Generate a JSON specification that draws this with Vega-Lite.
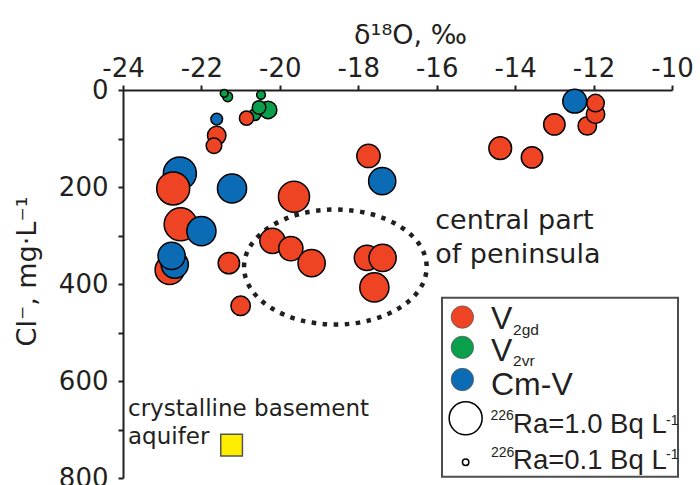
{
  "$schema": "https://vega.github.io/schema/vega-lite/v6.json",
  "width": 549,
  "height": 388,
  "autosize": {"type": "none"},
  "padding": {"left": 123, "top": 90, "right": 28, "bottom": 7},
  "background": "white",
  "config": {"view": {"stroke": null}, "font": "DejaVu Sans"},
  "encoding": {
    "x": {
      "field": "d18O", "type": "quantitative",
      "scale": {"domain": [-24, -10], "nice": false, "zero": false},
      "axis": {
        "orient": "top", "values": [-24, -22, -20, -18, -16, -14, -12, -10],
        "labelExpr": "'' + datum.value",
        "title": "δ¹⁸O, ‰", "grid": false,
        "domainColor": "#231F20", "domainWidth": 2,
        "tickColor": "#231F20", "tickWidth": 2, "tickSize": 5,
        "labelFont": "DejaVu Sans", "labelFontSize": 26, "labelColor": "#231F20",
        "labelPadding": 9, "labelBaseline": "alphabetic", "labelFlush": false, "labelOverlap": false, "labelBound": false,
        "titleFont": "DejaVu Sans", "titleFontSize": 27, "titleFontWeight": "normal", "titleColor": "#231F20",
        "titleX": 287, "titleY": -47, "titleBaseline": "alphabetic"
      }
    },
    "y": {
      "field": "Cl", "type": "quantitative",
      "scale": {"domain": [0, 800], "reverse": true, "nice": false, "zero": false},
      "axis": {
        "orient": "left", "values": [0, 100, 200, 300, 400, 500, 600, 700, 800],
        "labelExpr": "datum.value % 200 == 0 ? '' + datum.value : ''",
        "title": "Cl⁻, mg·L⁻¹", "grid": false,
        "domainColor": "#231F20", "domainWidth": 2,
        "tickColor": "#231F20", "tickWidth": 2, "tickSize": 5,
        "labelFont": "DejaVu Sans", "labelFontSize": 26, "labelColor": "#231F20",
        "labelPadding": 10, "labelFlush": false, "labelOverlap": false, "labelBound": false,
        "titleFont": "DejaVu Sans", "titleFontSize": 27, "titleFontWeight": "normal", "titleColor": "#231F20",
        "titleX": -88, "titleY": 181, "titleBaseline": "alphabetic", "titleAngle": 270
      }
    }
  },
  "layer": [
    {
      "data": {"values": [{"d18O": -18.585, "Cl": 365, "label": "central part of peninsula"}]},
      "mark": {
        "type": "point",
        "shape": "M -1 0 A 1 0.63 0 1 1 1 0 A 1 0.63 0 1 1 -1 0 Z",
        "size": 33343, "filled": false, "stroke": "#231F20", "strokeWidth": 4.5,
        "strokeDash": [4.5, 6.5], "opacity": 1
      }
    },
    {
      "data": {"values": [
        {"d18O": -21.33, "Cl": 14, "Ra": 0.179, "group": "V2vr"},
        {"d18O": -21.42, "Cl": 7, "Ra": 0.13, "group": "V2vr"},
        {"d18O": -20.30, "Cl": 41, "Ra": 0.409, "group": "V2vr"},
        {"d18O": -20.64, "Cl": 51, "Ra": 0.231, "group": "V2vr"},
        {"d18O": -20.53, "Cl": 36, "Ra": 0.287, "group": "V2vr"},
        {"d18O": -20.48, "Cl": 10, "Ra": 0.154, "group": "V2vr"},
        {"d18O": -20.85, "Cl": 58, "Ra": 0.304, "group": "V2gd"},
        {"d18O": -21.61, "Cl": 60, "Ra": 0.231, "group": "Cm-V"},
        {"d18O": -21.61, "Cl": 94, "Ra": 0.441, "group": "V2gd"},
        {"d18O": -21.68, "Cl": 115, "Ra": 0.346, "group": "V2gd"},
        {"d18O": -22.55, "Cl": 172, "Ra": 1.0, "group": "Cm-V"},
        {"d18O": -22.72, "Cl": 203, "Ra": 1.0, "group": "V2gd"},
        {"d18O": -21.22, "Cl": 203, "Ra": 0.838, "group": "Cm-V"},
        {"d18O": -17.74, "Cl": 136, "Ra": 0.613, "group": "V2gd"},
        {"d18O": -17.39, "Cl": 188, "Ra": 0.761, "group": "Cm-V"},
        {"d18O": -19.64, "Cl": 220, "Ra": 0.918, "group": "V2gd"},
        {"d18O": -22.53, "Cl": 277, "Ra": 1.0, "group": "V2gd"},
        {"d18O": -22.0, "Cl": 291, "Ra": 0.838, "group": "Cm-V"},
        {"d18O": -22.81, "Cl": 371, "Ra": 0.838, "group": "V2gd"},
        {"d18O": -22.68, "Cl": 360, "Ra": 0.761, "group": "Cm-V"},
        {"d18O": -22.76, "Cl": 342, "Ra": 0.761, "group": "Cm-V"},
        {"d18O": -21.30, "Cl": 357, "Ra": 0.542, "group": "V2gd"},
        {"d18O": -20.19, "Cl": 311, "Ra": 0.685, "group": "V2gd"},
        {"d18O": -19.72, "Cl": 327, "Ra": 0.649, "group": "V2gd"},
        {"d18O": -19.19, "Cl": 357, "Ra": 0.761, "group": "V2gd"},
        {"d18O": -17.78, "Cl": 346, "Ra": 0.685, "group": "V2gd"},
        {"d18O": -17.38, "Cl": 346, "Ra": 0.761, "group": "V2gd"},
        {"d18O": -17.59, "Cl": 407, "Ra": 0.838, "group": "V2gd"},
        {"d18O": -21.0, "Cl": 445, "Ra": 0.474, "group": "V2gd"},
        {"d18O": -14.38, "Cl": 120, "Ra": 0.591, "group": "V2gd"},
        {"d18O": -13.57, "Cl": 139, "Ra": 0.542, "group": "V2gd"},
        {"d18O": -13.0, "Cl": 71, "Ra": 0.542, "group": "V2gd"},
        {"d18O": -12.16, "Cl": 74, "Ra": 0.441, "group": "V2gd"},
        {"d18O": -11.95, "Cl": 50, "Ra": 0.441, "group": "V2gd"},
        {"d18O": -12.48, "Cl": 23, "Ra": 0.634, "group": "Cm-V"},
        {"d18O": -11.95, "Cl": 27, "Ra": 0.409, "group": "V2gd"}
      ]},
      "mark": {"type": "point", "shape": "circle", "filled": true, "opacity": 1, "stroke": "#000000", "strokeWidth": 1.5},
      "encoding": {
        "color": {"field": "group", "type": "nominal",
          "scale": {"domain": ["V2gd", "V2vr", "Cm-V"], "range": ["#EF4423", "#0A9F4B", "#0B6BB5"]}, "legend": null},
        "size": {"field": "Ra", "type": "quantitative",
          "scale": {"type": "pow", "exponent": 1.42, "domain": [0, 1], "range": [0, 1089]}, "legend": null}
      }
    },
    {
      "data": {"values": [{"d18O": -21.231, "Cl": 732.4, "label": "crystalline basement aquifer"}]},
      "mark": {"type": "point", "shape": "square", "filled": true, "size": 470, "fill": "#FFED00", "stroke": "#555555", "strokeWidth": 1.5, "opacity": 1}
    },
    {
      "data": {"values": [
        {"d18O": -16.038, "Cl": 286.6, "label": "central part"},
        {"d18O": -16.038, "Cl": 357.3, "label": "of peninsula"}
      ]},
      "mark": {"type": "text", "align": "left", "baseline": "alphabetic", "font": "DejaVu Sans", "fontSize": 27, "color": "#231F20"},
      "encoding": {"text": {"field": "label"}}
    },
    {
      "data": {"values": [
        {"d18O": -23.872, "Cl": 671.5, "label": "crystalline basement"},
        {"d18O": -23.872, "Cl": 729.9, "label": "aquifer"}
      ]},
      "mark": {"type": "text", "align": "left", "baseline": "alphabetic", "font": "DejaVu Sans", "fontSize": 23, "color": "#231F20"},
      "encoding": {"text": {"field": "label"}}
    },
    {
      "data": {"values": [{"d18O": -15.865, "d18O_2": -9.847, "Cl": 428.5, "Cl_2": 797.3}]},
      "mark": {"type": "rect", "fill": "white", "stroke": "#4D4D4D", "strokeWidth": 2},
      "encoding": {"x2": {"field": "d18O_2"}, "y2": {"field": "Cl_2"}}
    },
    {
      "data": {"values": [
        {"d18O": -15.346, "Cl": 468.2, "group": "V2gd"},
        {"d18O": -15.346, "Cl": 530.7, "group": "V2vr"},
        {"d18O": -15.346, "Cl": 596.9, "group": "Cm-V"}
      ]},
      "mark": {"type": "point", "shape": "circle", "filled": true, "opacity": 1, "size": 500, "stroke": "#555555", "strokeWidth": 0.8},
      "encoding": {
        "color": {"field": "group", "type": "nominal",
          "scale": {"domain": ["V2gd", "V2vr", "Cm-V"], "range": ["#EF4423", "#0A9F4B", "#0B6BB5"]}, "legend": null}
      }
    },
    {
      "data": {"values": [
        {"d18O": -15.262, "Cl": 676.9, "Ra": 1.0},
        {"d18O": -15.262, "Cl": 767.4, "Ra": 0.1}
      ]},
      "mark": {"type": "point", "shape": "circle", "filled": false, "fill": "white", "opacity": 1, "stroke": "#000000", "strokeWidth": 1.5},
      "encoding": {
        "size": {"field": "Ra", "type": "quantitative",
          "scale": {"type": "pow", "exponent": 1.42, "domain": [0, 1], "range": [0, 1089]}, "legend": null}
      }
    },
    {
      "data": {"values": [
        {"d18O": -14.616, "Cl": 492.6, "label": "V"},
        {"d18O": -14.616, "Cl": 558.8, "label": "V"},
        {"d18O": -14.616, "Cl": 628.2, "label": "Cm-V"}
      ]},
      "mark": {"type": "text", "align": "left", "baseline": "alphabetic", "font": "Liberation Sans", "fontSize": 32, "color": "#231F20"},
      "encoding": {"text": {"field": "label"}}
    },
    {
      "data": {"values": [
        {"d18O": -14.054, "Cl": 505.2, "label": "2gd"},
        {"d18O": -14.054, "Cl": 569.1, "label": "2vr"}
      ]},
      "mark": {"type": "text", "align": "left", "baseline": "alphabetic", "font": "Liberation Sans", "fontSize": 15.5, "color": "#231F20"},
      "encoding": {"text": {"field": "label"}}
    },
    {
      "data": {"values": [
        {"d18O": -14.054, "Cl": 708.2, "label": "Ra=1.0 Bq L"},
        {"d18O": -14.054, "Cl": 781.4, "label": "Ra=0.1 Bq L"}
      ]},
      "mark": {"type": "text", "align": "left", "baseline": "alphabetic", "font": "Liberation Sans", "fontSize": 27.5, "color": "#231F20"},
      "encoding": {"text": {"field": "label"}}
    },
    {
      "data": {"values": [
        {"d18O": -14.631, "Cl": 680.4, "label": "226"},
        {"d18O": -10.151, "Cl": 690.7, "label": "-1"},
        {"d18O": -14.616, "Cl": 756.9, "label": "226"},
        {"d18O": -10.151, "Cl": 760.8, "label": "-1"}
      ]},
      "mark": {"type": "text", "align": "left", "baseline": "alphabetic", "font": "Liberation Sans", "fontSize": 14, "color": "#231F20"},
      "encoding": {"text": {"field": "label"}}
    }
  ]
}
